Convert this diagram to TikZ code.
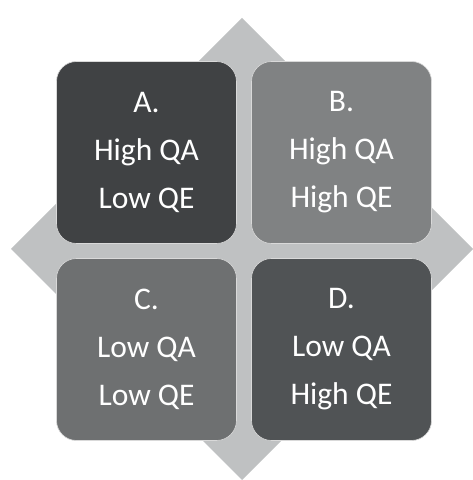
\documentclass[tikz,border=0pt]{standalone}
\usepackage{fontspec}
\setmainfont{Carlito}
\usepackage{xcolor}
\usepackage{tikz}
\usetikzlibrary{shapes.geometric, positioning}

\definecolor{diamondgray}{RGB}{191,193,194}
\definecolor{boxA}{RGB}{64,66,68}
\definecolor{boxB}{RGB}{128,130,131}
\definecolor{boxC}{RGB}{110,112,113}
\definecolor{boxD}{RGB}{80,83,85}

\begin{document}
\begin{tikzpicture}[
    x=1pt, y=1pt,
    node distance=15pt,
    quad/.style={rectangle, draw=white!85!black, line width=0.6pt, outer sep=0pt, inner sep=0pt, minimum width=180pt, minimum height=182pt, align=center, rounded corners=20pt, text=white, font=\fontsize{31.5pt}{48pt}\selectfont},
    back/.style={diamond, fill=diamondgray, minimum width=462pt, minimum height=462pt, inner sep=0pt, outer sep=0pt}
]
\useasboundingbox (0,0) rectangle (473,480);

% Background diamond
\node[back] (dia) at (242,231) {};

% Four quadrants
\node[quad, fill=boxA] (qa) at (146.5,327.5) {A.\\High QA\\Low QE};
\node[quad, fill=boxB, right=of qa] (qb) {B.\\High QA\\High QE};
\node[quad, fill=boxC, below=of qa] (qc) {C.\\Low QA\\Low QE};
\node[quad, fill=boxD, right=of qc] (qd) {D.\\Low QA\\High QE};

\end{tikzpicture}
\end{document}
